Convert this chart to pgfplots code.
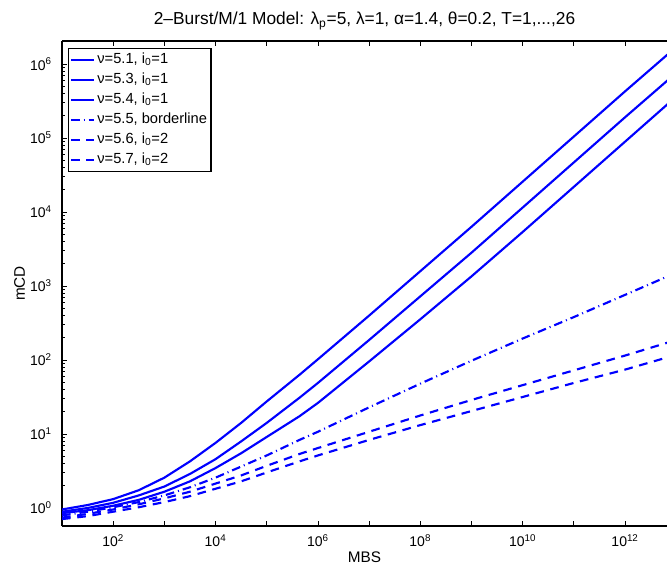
\documentclass[border=0pt]{standalone}
\usepackage{pgfplots}
\pgfplotsset{compat=1.18}
\usepackage{pgfplotstable}
\usepackage{fontspec}
\setmainfont{Liberation Sans}
\definecolor{mblue}{RGB}{0,0,255}

\pgfplotstableread{
x        a        b       c       d      e      f
1e1      0.955    0.891   0.851   0.794  0.741  0.708
3.162e1  1.096    1.0     0.933   0.891  0.832  0.776
1e2      1.318    1.175   1.072   1.023  0.955  0.891
3.162e2  1.738    1.479   1.288   1.202  1.122  1.023
1e3      2.570    1.950   1.660   1.479  1.349  1.202
3.162e3  4.266    2.884   2.291   1.905  1.660  1.445
1e4      7.586    4.571   3.467   2.570  2.138  1.820
3.162e4  14.13    7.943   5.495   3.631  2.754  2.291
1e5      27.54    14.13   9.120   5.129  3.715  3.020
4.365e5  63.10    30.90   17.38   8.318  5.370  4.266
1e6      102.3    48.98   26.30   10.72  6.457  5.129
1e7      398.1    186.2   95.50   22.91  10.72  8.318
1e8      1585     724.4   354.8   47.86  17.78  13.18
1e9      6310     2818    1349    97.72  28.84  20.42
1e10     25700    11480   5370    195.0  45.71  31.62
1e11     104700   46770   21880   380.2  72.44  48.98
1e12     426600   190500  89130   758.6  114.8  74.13
1e13     1698000  758600  363100  1514   186.2  117.5
}\datatable

\begin{document}
\begin{tikzpicture}
\path[use as bounding box] (-46.5pt,-30.75pt) rectangle (453.75pt,394.5pt);
\begin{axis}[
  at={(0,0)}, anchor=south west,
  scale only axis, width=453.75pt, height=363.75pt,
  xmode=log, ymode=log,
  xmin=10, xmax=6.607e12, ymin=0.571, ymax=2.046e6,
  separate axis lines,
  axis x line=box, axis y line=left,
  x axis line style={-, line width=0.9pt},
  y axis line style={-, line width=0.9pt},
  tick align=inside,
  xtick={1e1,1e2,1e3,1e4,1e5,1e6,1e7,1e8,1e9,1e10,1e11,1e12,1e13},
  xticklabels={,10\textsuperscript{2},,10\textsuperscript{4},,10\textsuperscript{6},,10\textsuperscript{8},,10\textsuperscript{10},,10\textsuperscript{12},},
  xminorticks=false,
  ytick={1,10,100,1000,1e4,1e5,1e6},
  yticklabels={10\textsuperscript{0},10\textsuperscript{1},10\textsuperscript{2},10\textsuperscript{3},10\textsuperscript{4},10\textsuperscript{5},10\textsuperscript{6}},
  major tick length=3.75pt, minor tick length=2.25pt,
  every tick/.style={black, line width=0.6pt},
  ticklabel style={font=\fontsize{10.5}{12}\selectfont},
  xticklabel style={anchor=base, yshift=-15.5pt},
  yticklabel style={anchor=east, xshift=-4.2pt},
  every axis title shift=0pt,
  title={2–Burst/M/1 Model: λ\textsubscript{p}=5, λ=1, α=1.4, θ=0.2, T=1,...,26},
  title style={at={(0.5,1)}, anchor=base, yshift=12pt, font=\fontsize{13}{15}\selectfont},
  xlabel={MBS},
  xlabel style={at={(axis description cs:0.5,0)}, anchor=base, yshift=-27.5pt, font=\fontsize{11.5}{13}\selectfont},
  ylabel={mCD},
  ylabel style={at={(axis description cs:-0.0612,0.5)}, anchor=base, font=\fontsize{11.5}{13}\selectfont},
  legend cell align=left,
  legend image code/.code={\draw[#1] (0pt,0pt) -- (17pt,0pt);},
  legend style={at={(0,1)}, anchor=north west, xshift=4.5pt, yshift=-5.25pt,
    draw=black, line width=0.9pt, inner sep=1pt,
    font=\fontsize{11}{12}\selectfont,
    nodes={inner sep=2pt, text height=8pt, text depth=3pt}},
]
\addplot[mblue, line width=1.6pt] table[x=x, y=a] {\datatable};
\addlegendentry{ν=5.1, i\textsubscript{0}=1}
\addplot[mblue, line width=1.6pt] table[x=x, y=b] {\datatable};
\addlegendentry{ν=5.3, i\textsubscript{0}=1}
\addplot[mblue, line width=1.6pt] table[x=x, y=c] {\datatable};
\addlegendentry{ν=5.4, i\textsubscript{0}=1}
\addplot[mblue, line width=1.6pt, dash pattern=on 6.5pt off 3pt on 0.75pt off 3pt] table[x=x, y=d] {\datatable};
\addlegendentry{ν=5.5, borderline}
\addplot[mblue, line width=1.6pt, dash pattern=on 6.5pt off 5pt] table[x=x, y=e] {\datatable};
\addlegendentry{ν=5.6, i\textsubscript{0}=2}
\addplot[mblue, line width=1.6pt, dash pattern=on 6.5pt off 5pt] table[x=x, y=f] {\datatable};
\addlegendentry{ν=5.7, i\textsubscript{0}=2}
\end{axis}
\end{tikzpicture}
\end{document}
